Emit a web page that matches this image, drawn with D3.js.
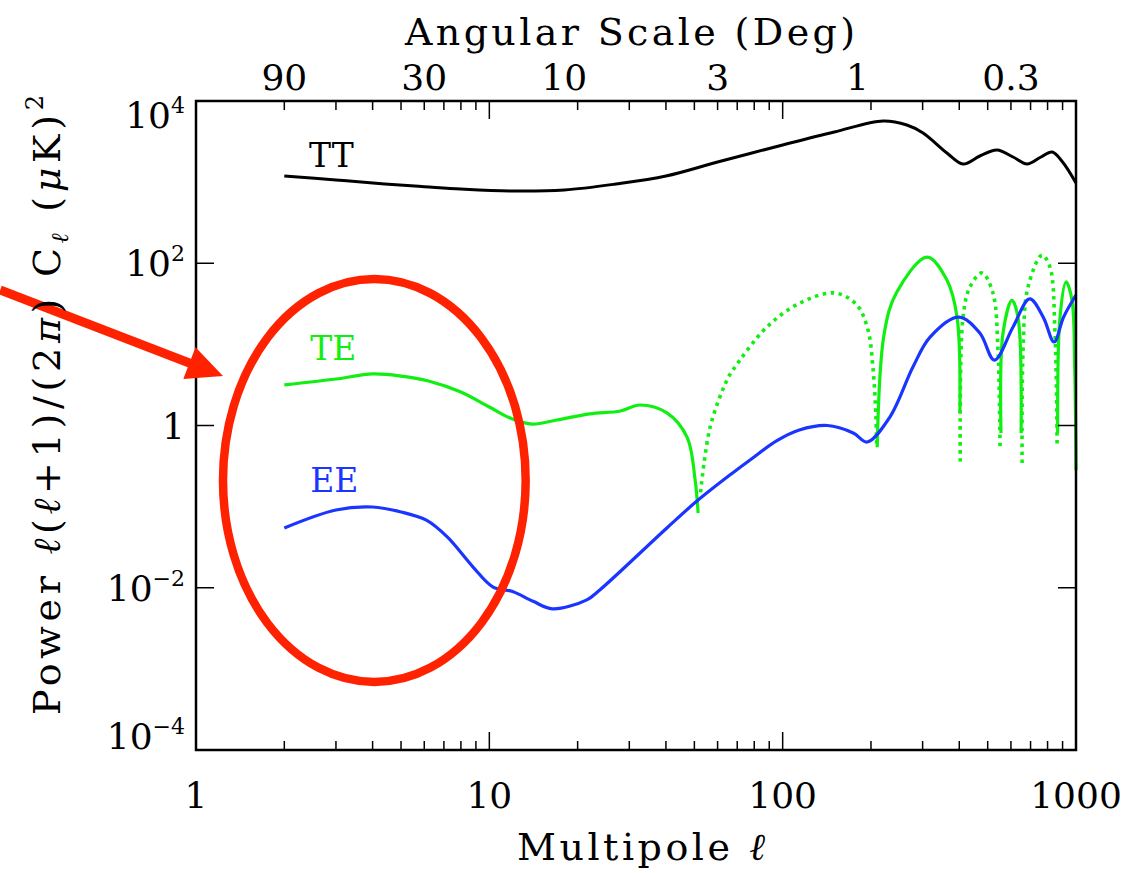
<!DOCTYPE html>
<html>
<head>
<meta charset="utf-8">
<script src="https://cdn.jsdelivr.net/npm/d3@7"></script>
<style>
  body { margin: 0; background: #fff; }
  svg text { font-family: 'DejaVu Serif', 'Liberation Serif', serif; fill: #000; }
</style>
</head>
<body>
<svg id="chart"></svg>
<script>
// D_l = l(l+1)C_l/2pi in (uK)^2
const ttEll = [2, 3, 4.4, 6, 8, 12, 18, 27, 40, 60, 100, 150, 220, 265, 301, 363, 412, 470, 538, 610, 681, 760, 829, 900, 1000];
const ttPower = [1190, 1062, 948, 880, 823, 777, 800, 948, 1190, 1770, 2870, 4150, 5670, 5058, 4035, 2286, 1672, 2099, 2490, 2040, 1672, 2040, 2352, 1770, 975];

// TE is signed: negative stretches are drawn dotted (as |TE|)
const teEll = [2, 3, 4, 5, 6.2, 8, 10, 12, 14, 17, 22, 28, 32.6, 40.3, 47.2, 50.3, 51.5,
  52.5, 56.6, 64.6, 67.7, 88.4, 114.6, 150.8, 179, 195.4, 203, 208, 209,
  210, 222, 244, 311, 363, 393, 402,
  403, 412, 435, 478, 521, 542, 551,
  555, 564, 605, 634, 650,
  655, 660, 686, 766, 815, 848, 862,
  866, 882, 925, 969, 990, 1000];
const tePower = [3.16, 3.74, 4.32, 4.07, 3.54, 2.59, 1.69, 1.20, 1.04, 1.17, 1.39, 1.51, 1.79, 1.43, 0.72, 0.213, 0.083,
  -0.15, -0.96, -3.64, -4.83, -16.4, -32.4, -43, -30.6, -15, -5.3, -1.27, -0.6,
  0.54, 13.8, 43, 119, 62, 21.7, 1.43,
  -0.36, -21.7, -51, -76, -43, -8.5, -0.5,
  0.81, 13.8, 35, 21.7, 0.8,
  -0.345, -8.5, -51, -126, -90, -13.8, -0.6,
  0.8, 21.7, 59, 35, 5, 0.28];

const eeEll = [2, 3, 4, 5, 6.1, 7.2, 8.8, 10.3, 12, 14.1, 16.4, 21.5, 23.8, 40.3, 51, 67.7, 77.4, 95.6, 114, 142, 174, 194, 232, 278, 318, 398, 470, 527, 610, 695, 773, 842, 907, 1000];
const eePower = [0.0546, 0.091, 0.099, 0.086, 0.068, 0.042, 0.018, 0.0102, 0.0090, 0.0068, 0.0055, 0.0071, 0.0094, 0.0546, 0.117, 0.262, 0.376, 0.65, 0.88, 1.0, 0.81, 0.626, 1.27, 5.26, 12.3, 21.7, 13.8, 6.4, 16.4, 36.3, 21.7, 10.7, 21.7, 40.6];

const seriesNames = ['TT', 'TE', 'EE'];

const multipoleTicks = [1, 10, 100, 1000];
const angleTicks = [90, 30, 10, 3, 1, 0.3];
const powerTicks = [1e-4, 1e-2, 1, 1e2, 1e4];
const powerTickBase = ['10', '10', '1', '10', '10'];
const powerTickExp = ['\u22124', '\u22122', '', '2', '4'];

class SpectrumChart {

  constructor(_config) {
    this.config = {
      parentElement: _config.parentElement,
      containerWidth: _config.containerWidth || 1146,
      containerHeight: _config.containerHeight || 873,
      margin: _config.margin || {top: 101, right: 70, bottom: 123, left: 196}
    };
    this.initVis();
  }

  initVis() {
    let vis = this;

    vis.width = vis.config.containerWidth - vis.config.margin.left - vis.config.margin.right;
    vis.height = vis.config.containerHeight - vis.config.margin.top - vis.config.margin.bottom;

    vis.xScale = d3.scaleLog().domain([1, 1000]).range([0, vis.width]);
    vis.yScale = d3.scaleLog().domain([1e-4, 1e4]).range([vis.height, 0]);

    vis.svg = d3.select(vis.config.parentElement)
        .attr('width', vis.config.containerWidth)
        .attr('height', vis.config.containerHeight);

    vis.chart = vis.svg.append('g')
        .attr('transform', `translate(${vis.config.margin.left},${vis.config.margin.top})`);

    vis.marks = vis.chart.append('g');
    vis.axes = vis.chart.append('g');
    vis.notes = vis.svg.append('g');
  }

  updateVis() {
    let vis = this;

    vis.tt = ttEll.map((l, i) => ({l, v: ttPower[i]}));
    vis.ee = eeEll.map((l, i) => ({l, v: eePower[i]}));

    // split TE into runs of equal sign
    vis.teRuns = [];
    let run = null;
    teEll.forEach((l, i) => {
      const v = tePower[i];
      const sign = v >= 0;
      if (!run || run.sign !== sign) {
        run = {sign, pts: []};
        vis.teRuns.push(run);
      }
      run.pts.push({l, v: Math.abs(v)});
    });

    vis.line = d3.line()
        .x(d => vis.xScale(d.l))
        .y(d => vis.yScale(d.v))
        .curve(d3.curveCatmullRom.alpha(0.5));

    vis.renderVis();
  }

  renderVis() {
    let vis = this;
    const x = vis.xScale, y = vis.yScale;

    vis.marks.append('path')
        .datum(vis.tt)
        .attr('fill', 'none')
        .attr('stroke', '#000')
        .attr('stroke-width', 3)
        .attr('d', vis.line);

    vis.marks.selectAll('.te-run')
        .data(vis.teRuns)
      .join('path')
        .attr('class', 'te-run')
        .attr('fill', 'none')
        .attr('stroke', '#11ee11')
        .attr('stroke-width', d => d.sign ? 3.2 : 3.6)
        .attr('stroke-dasharray', d => d.sign ? null : '3.5,4.5')
        .attr('d', d => vis.line(d.pts));

    vis.marks.append('path')
        .datum(vis.ee)
        .attr('fill', 'none')
        .attr('stroke', '#1a35ff')
        .attr('stroke-width', 3.2)
        .attr('d', vis.line);

    // series labels
    const labelPos = [[2.43, 1535, '#000'], [2.45, 6.42, '#11ee11'], [2.45, 0.151, '#1a35ff']];
    vis.marks.selectAll('.series-label')
        .data(seriesNames)
      .join('text')
        .attr('class', 'series-label')
        .attr('x', (d, i) => x(labelPos[i][0]))
        .attr('y', (d, i) => y(labelPos[i][1]))
        .attr('font-size', 33)
        .style('fill', (d, i) => labelPos[i][2])
        .text(d => d);

    // frame
    vis.axes.append('rect')
        .attr('width', vis.width)
        .attr('height', vis.height)
        .attr('fill', 'none')
        .attr('stroke', '#000')
        .attr('stroke-width', 2.5);

    // log ticks on multipole, mirrored on top
    const minor = [];
    [1, 10, 100].forEach(p => d3.range(2, 10).forEach(k => minor.push(k * p)));
    const xt = minor.map(v => ({v, len: 9})).concat([10, 100].map(v => ({v, len: 18})));
    vis.axes.selectAll('.xtick-b')
        .data(xt)
      .join('line')
        .attr('x1', d => x(d.v)).attr('x2', d => x(d.v))
        .attr('y1', vis.height).attr('y2', d => vis.height - d.len)
        .attr('stroke', '#000').attr('stroke-width', 1.5);
    vis.axes.selectAll('.xtick-t')
        .data(xt)
      .join('line')
        .attr('x1', d => x(d.v)).attr('x2', d => x(d.v))
        .attr('y1', 0).attr('y2', d => d.len)
        .attr('stroke', '#000').attr('stroke-width', 1.5);

    vis.axes.selectAll('.ytick')
        .data(powerTicks.flatMap(v => [{v, side: 0}, {v, side: 1}]))
      .join('line')
        .attr('x1', d => d.side ? vis.width : 0)
        .attr('x2', d => d.side ? vis.width - 18 : 18)
        .attr('y1', d => y(d.v)).attr('y2', d => y(d.v))
        .attr('stroke', '#000').attr('stroke-width', 1.5);

    // bottom labels
    vis.axes.selectAll('.xlabel')
        .data(multipoleTicks)
      .join('text')
        .attr('x', d => x(d))
        .attr('y', vis.height + 58)
        .attr('text-anchor', 'middle')
        .attr('font-size', 36)
        .text(d => d);

    // top labels: angular scale = 180/l degrees
    vis.axes.selectAll('.toplabel')
        .data(angleTicks)
      .join('text')
        .attr('x', d => x(180 / d))
        .attr('y', -11)
        .attr('text-anchor', 'middle')
        .attr('font-size', 36)
        .text(d => d);

    // y labels
    const yl = vis.axes.selectAll('.ylabel')
        .data(powerTicks)
      .join('text')
        .attr('x', -11)
        .attr('y', (d, i) => {
          let c = y(d);
          if (i === 0) c -= 14;
          if (i === powerTicks.length - 1) c += 14;
          return c + 13;
        })
        .attr('text-anchor', 'end')
        .attr('font-size', 36);
    yl.append('tspan').text((d, i) => powerTickBase[i]);
    yl.append('tspan')
        .attr('dy', -15)
        .attr('font-size', 22)
        .text((d, i) => powerTickExp[i]);

    // axis titles
    vis.svg.append('text')
        .attr('x', 630)
        .attr('y', 45)
        .attr('text-anchor', 'middle')
        .attr('font-size', 38)
        .attr('textLength', 450)
        .attr('lengthAdjust', 'spacing')
        .text('Angular Scale (Deg)');

    const xt2 = vis.svg.append('text')
        .attr('x', 641)
        .attr('y', 860)
        .attr('text-anchor', 'middle')
        .attr('font-size', 38)
        .attr('textLength', 248)
        .attr('lengthAdjust', 'spacing');
    xt2.append('tspan').text('Multipole ');
    xt2.append('tspan').attr('font-style', 'italic').text('\u2113');

    const ytl = vis.svg.append('text')
        .attr('transform', 'translate(60,405) rotate(-90)')
        .attr('text-anchor', 'middle')
        .attr('font-size', 38)
        .attr('textLength', 620)
        .attr('lengthAdjust', 'spacing');
    ytl.append('tspan').text('Power ');
    ytl.append('tspan').attr('font-style', 'italic').text('\u2113');
    ytl.append('tspan').text('(');
    ytl.append('tspan').attr('font-style', 'italic').text('\u2113');
    ytl.append('tspan').text('+1)/(2');
    ytl.append('tspan').attr('font-style', 'italic').text('\u03c0');
    ytl.append('tspan').text(') C');
    ytl.append('tspan').attr('font-style', 'italic').attr('font-size', 24).attr('dy', 8).text('\u2113');
    ytl.append('tspan').attr('dy', -8).text(' (');
    ytl.append('tspan').attr('font-style', 'italic').text('\u03bc');
    ytl.append('tspan').text('K)');
    ytl.append('tspan').attr('font-size', 24).attr('dy', -17).text('2');

    // red annotation: ellipse around the low-l polarization and an arrow into it
    const ml = vis.config.margin.left, mt = vis.config.margin.top;
    const ex0 = x(1.236), ex1 = x(13.3), ey0 = y(64), ey1 = y(6.9e-4);
    vis.notes.append('ellipse')
        .attr('cx', ml + (ex0 + ex1) / 2)
        .attr('cy', mt + (ey0 + ey1) / 2)
        .attr('rx', (ex1 - ex0) / 2)
        .attr('ry', (ey1 - ey0) / 2)
        .attr('fill', 'none')
        .attr('stroke', '#ff2200')
        .attr('stroke-width', 8.5);

    const sx = ml + x(0.215), sy = mt + y(46.8);
    const tx = ml + x(1.236), ty = mt + y(4.07);
    const len = Math.hypot(tx - sx, ty - sy);
    const ux = (tx - sx) / len, uy = (ty - sy) / len;
    const bx = tx - ux * 36, by = ty - uy * 36;
    vis.notes.append('line')
        .attr('x1', sx).attr('y1', sy)
        .attr('x2', bx + ux * 2).attr('y2', by + uy * 2)
        .attr('stroke', '#ff2200')
        .attr('stroke-width', 9);
    vis.notes.append('polygon')
        .attr('points', [[tx, ty], [bx - uy * 17, by + ux * 17], [bx + uy * 17, by - ux * 17]].map(p => p.join(',')).join(' '))
        .attr('fill', '#ff2200');
  }
}

const chart = new SpectrumChart({parentElement: '#chart'});
chart.updateVis();
</script>
</body>
</html>
